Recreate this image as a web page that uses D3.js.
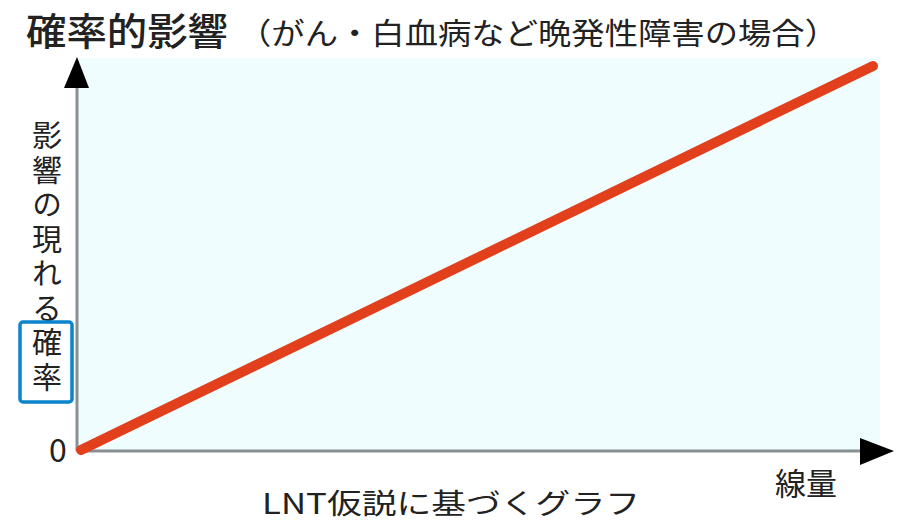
<!DOCTYPE html>
<html><head><meta charset="utf-8">
<script src="https://cdn.jsdelivr.net/npm/d3@7"></script>
<style>body{margin:0;background:#fff}svg{display:block}text{font-family:"Noto Sans CJK JP",sans-serif;fill:#222}</style>
</head><body><svg id="c" width="902" height="523"></svg>
<script>
const dose = [0, 1];
const risk = [0, 1];
const titleMain = "確率的影響";
const titleSub = "（がん・白血病など晩発性障害の場合）";
const yLabel = "影響の現れる確率";
const xLabel = "線量";
const caption = "LNT仮説に基づくグラフ";
const zeroLabel = "0";

const svg = d3.select("#c");
const x = d3.scaleLinear().domain([0, 1]).range([81, 873]);
const y = d3.scaleLinear().domain([0, 1]).range([450, 66]);

// background
svg.append("rect").attr("x", 77).attr("y", 58).attr("width", 803).attr("height", 393).attr("fill", "#effdff");

// axes
svg.append("line").attr("x1", 77).attr("x2", 77).attr("y1", 80).attr("y2", 451).attr("stroke", "#8a8f93").attr("stroke-width", 3);
svg.append("line").attr("x1", 77).attr("x2", 870).attr("y1", 451).attr("y2", 451).attr("stroke", "#8a8f93").attr("stroke-width", 3);
svg.append("path").attr("d", "M77,57 L89,88 L64,88 Z").attr("fill", "#000");
svg.append("path").attr("d", "M894,451 L860,438 L860,465 Z").attr("fill", "#000");

// line
const line = d3.line().x((d, i) => x(dose[i])).y(d => y(d));
svg.append("path").datum(risk).attr("d", line).attr("fill", "none")
  .attr("stroke", "#e2401c").attr("stroke-width", 10).attr("stroke-linecap", "round");

// title
svg.append("text").attr("x", 26).attr("y", 45).attr("font-size", 38).attr("font-weight", 500).attr("textLength", 202).attr("lengthAdjust", "spacingAndGlyphs").text(titleMain);
svg.append("text").attr("x", 238).attr("y", 44).attr("font-size", 30).attr("textLength", 600).attr("lengthAdjust", "spacingAndGlyphs").text(titleSub);

// y label vertical, one character per row (vertical writing mode per glyph)
const chars = Array.from(yLabel);
svg.selectAll(".yl").data(chars).enter().append("text").attr("class", "yl")
  .attr("x", 47).attr("y", (d, i) => 120 + i * 34.5)
  .style("writing-mode", "vertical-rl")
  .attr("font-size", 30).text(d => d);
svg.append("rect").attr("x", 20).attr("y", 322).attr("width", 52).attr("height", 80).attr("rx", 3)
  .attr("fill", "none").attr("stroke", "#0a84cc").attr("stroke-width", 3.5);

svg.append("text").attr("x", 58).attr("y", 462).attr("text-anchor", "middle").attr("font-size", 32).text(zeroLabel);
svg.append("text").attr("x", 806).attr("y", 495).attr("text-anchor", "middle").attr("font-size", 31).text(xLabel);
svg.append("text").attr("x", 451).attr("y", 514).attr("text-anchor", "middle").attr("font-size", 28).attr("textLength", 378).attr("lengthAdjust", "spacingAndGlyphs").text(caption);
</script></body></html>
